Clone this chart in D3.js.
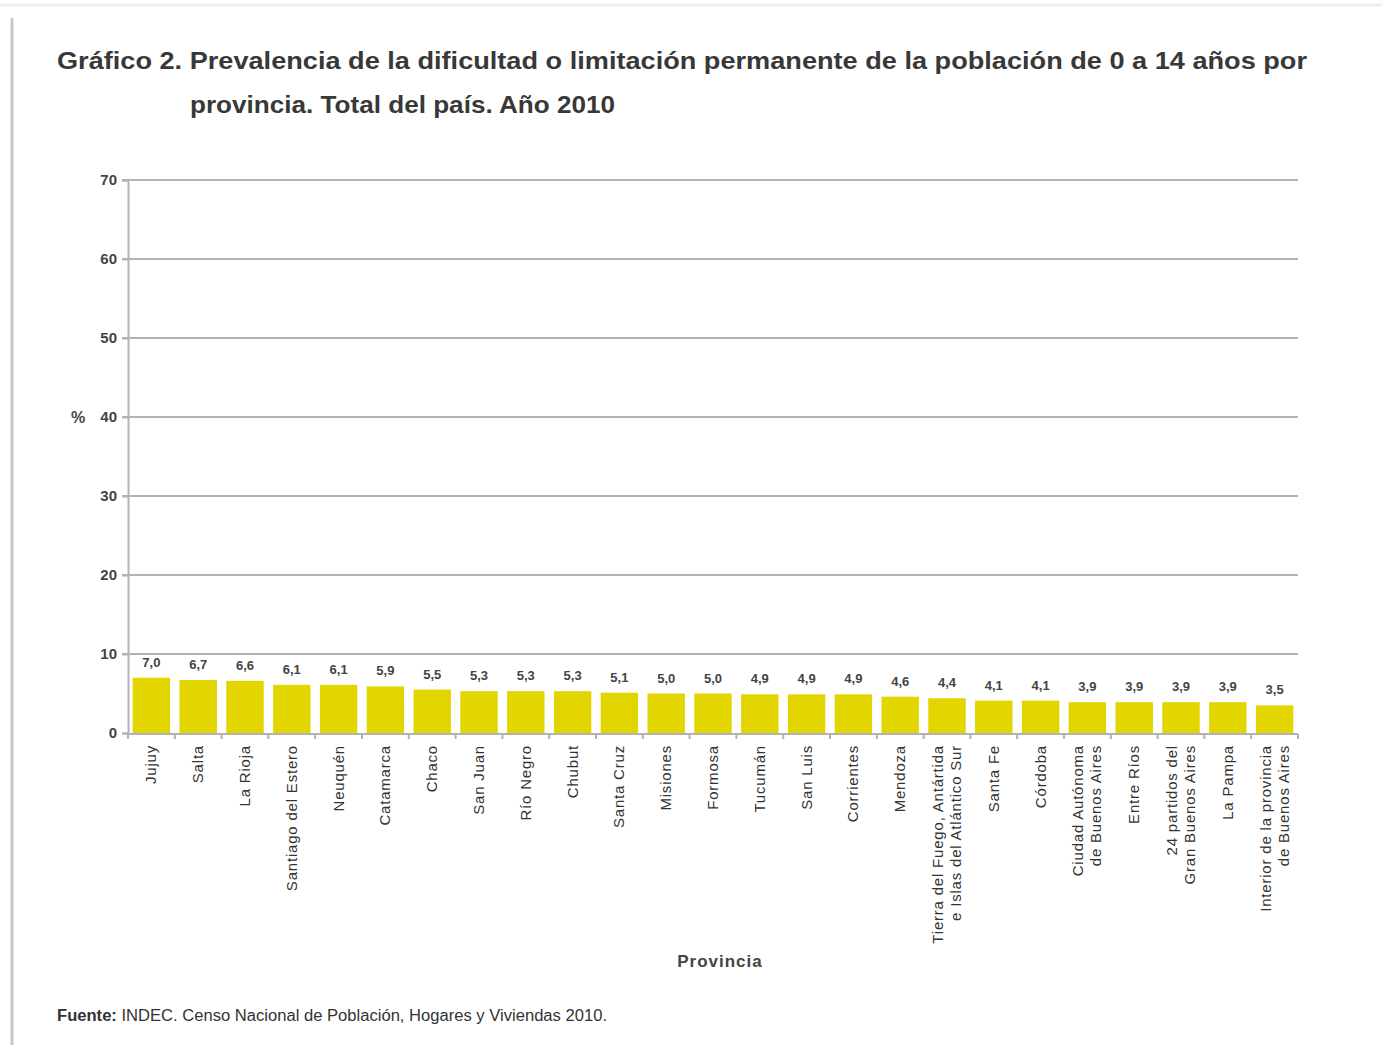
<!DOCTYPE html>
<html>
<head>
<meta charset="utf-8">
<script src="https://cdn.jsdelivr.net/npm/d3@7"></script>
<style>
  body { margin: 0; background: #fff; }
  #space { width: 1382px; height: 1045px; }
</style>
</head>
<body>
<div id="space"></div>
<script>
var provincias = [
    ["Jujuy"], ["Salta"], ["La Rioja"], ["Santiago del Estero"], ["Neuquén"],
    ["Catamarca"], ["Chaco"], ["San Juan"], ["Río Negro"], ["Chubut"],
    ["Santa Cruz"], ["Misiones"], ["Formosa"], ["Tucumán"], ["San Luis"],
    ["Corrientes"], ["Mendoza"], ["Tierra del Fuego, Antártida", "e Islas del Atlántico Sur"],
    ["Santa Fe"], ["Córdoba"], ["Ciudad Autónoma", "de Buenos Aires"], ["Entre Ríos"],
    ["24 partidos del", "Gran Buenos Aires"], ["La Pampa"],
    ["Interior de la provincia", "de Buenos Aires"]
];
var prevalencia = [7.0, 6.7, 6.6, 6.1, 6.1, 5.9, 5.5, 5.3, 5.3, 5.3, 5.1, 5.0, 5.0,
    4.9, 4.9, 4.9, 4.6, 4.4, 4.1, 4.1, 3.9, 3.9, 3.9, 3.9, 3.5];
var yTicks = [0, 10, 20, 30, 40, 50, 60, 70];
var titulo = ["Gráfico 2. Prevalencia de la dificultad o limitación permanente de la población de 0 a 14 años por",
    "provincia. Total del país. Año 2010"];
var fuente = "INDEC. Censo Nacional de Población, Hogares y Viviendas 2010.";

var svg, x, y;
var left = 128, right = 1298, top_y = 180, bottom = 733;

init();

function init() {
    svg = d3.select("#space").append("svg")
        .attr("xmlns", "http://www.w3.org/2000/svg")
        .attr("width", 1382)
        .attr("height", 1045)
        .style("font-family", "'Liberation Sans', Arial, sans-serif");

    //page edges
    svg.append("line").attr("x1", 0).attr("x2", 1382).attr("y1", 5).attr("y2", 5)
        .attr("stroke", "#eeeeee").attr("stroke-width", 3);
    svg.append("line").attr("x1", 12).attr("x2", 12).attr("y1", 18).attr("y2", 1045)
        .attr("stroke", "#c8c8c8").attr("stroke-width", 3);

    x = d3.scaleBand().domain(d3.range(provincias.length)).range([left, right]).paddingInner(0.2).paddingOuter(0.1);
    y = d3.scaleLinear().domain([0, 70]).range([bottom, top_y]);

    drawTitle();
    drawGrid();
    drawBars();
    drawLabels();
}

function drawTitle() {
    svg.append("text")
        .attr("x", 57).attr("y", 69)
        .attr("font-size", 23.5).attr("font-weight", "bold").attr("fill", "#383838")
        .attr("textLength", 1250).attr("lengthAdjust", "spacingAndGlyphs")
        .text(titulo[0]);
    svg.append("text")
        .attr("x", 190).attr("y", 113)
        .attr("font-size", 23.5).attr("font-weight", "bold").attr("fill", "#383838")
        .attr("textLength", 425).attr("lengthAdjust", "spacingAndGlyphs")
        .text(titulo[1]);
}

function drawGrid() {
    var g = svg.append("g").attr("id", "grid");
    g.selectAll("line").data(yTicks.slice(1)).enter().append("line")
        .attr("x1", left - 6).attr("x2", right)
        .attr("y1", function (d) { return y(d); })
        .attr("y2", function (d) { return y(d); })
        .attr("stroke", "#b3b3b3").attr("stroke-width", 2);

    //y axis
    var yAxis = d3.axisLeft(y).tickValues(yTicks).tickSize(6).tickPadding(5);
    var ga = svg.append("g").attr("transform", "translate(" + left + ",0)").call(yAxis);
    ga.select(".domain").attr("stroke", "#b3b3b3").attr("stroke-width", 2);
    ga.selectAll(".tick line").attr("stroke", "#b3b3b3").attr("stroke-width", 2);
    ga.selectAll(".tick text")
        .attr("font-family", "'Liberation Sans', Arial, sans-serif")
        .attr("font-size", 15).attr("font-weight", "bold").attr("fill", "#444");

    svg.append("text").attr("x", 78).attr("y", 423)
        .attr("text-anchor", "middle")
        .attr("font-size", 16).attr("font-weight", "bold").attr("fill", "#444")
        .text("%");
}

function drawBars() {
    svg.append("g").attr("id", "rect").selectAll("rect")
        .data(prevalencia).enter().append("rect")
        .attr("x", function (d, i) { return x(i); })
        .attr("y", function (d) { return y(d); })
        .attr("width", x.bandwidth())
        .attr("height", function (d) { return y(0) - y(d); })
        .attr("fill", "#e3d600");

    svg.append("g").attr("id", "values").selectAll("text")
        .data(prevalencia).enter().append("text")
        .attr("x", function (d, i) { return x(i) + x.bandwidth() / 2; })
        .attr("y", function (d) { return y(d) - 11; })
        .attr("text-anchor", "middle")
        .attr("font-size", 13).attr("font-weight", "bold").attr("fill", "#444")
        .text(function (d) { return d.toFixed(1).replace(".", ","); });

    //x axis with ticks at band edges
    var step = x.step();
    var edges = d3.range(provincias.length + 1).map(function (i) {
        return i === 0 ? left : x(i - 1) + x.bandwidth() + step * x.paddingInner() / 2;
    });
    edges[edges.length - 1] = right;
    var gx = svg.append("g").attr("id", "xaxis");
    gx.append("line").attr("x1", left).attr("x2", right).attr("y1", bottom + 1).attr("y2", bottom + 1)
        .attr("stroke", "#b3b3b3").attr("stroke-width", 2);
    gx.selectAll(".tk").data(edges).enter().append("line")
        .attr("x1", function (d) { return d; }).attr("x2", function (d) { return d; })
        .attr("y1", bottom + 1).attr("y2", bottom + 6)
        .attr("stroke", "#b3b3b3").attr("stroke-width", 2);
}

function drawLabels() {
    var g = svg.append("g").attr("id", "text");
    provincias.forEach(function (lines, i) {
        var cx = x(i) + x.bandwidth() / 2;
        var n = lines.length;
        var t = g.append("text")
            .attr("transform", "translate(" + cx + "," + (bottom + 12) + ") rotate(-90)")
            .attr("text-anchor", "end")
            .attr("font-size", 15).attr("letter-spacing", 0.8).attr("fill", "#333");
        lines.forEach(function (s, k) {
            t.append("tspan")
                .attr("x", 0)
                .attr("dy", k === 0 ? (5 - (n - 1) * 9) : 18)
                .text(s);
        });
    });

    svg.append("text").attr("x", 720).attr("y", 967)
        .attr("text-anchor", "middle")
        .attr("font-size", 17).attr("font-weight", "bold").attr("fill", "#444")
        .attr("letter-spacing", 1)
        .text("Provincia");

    var f = svg.append("text").attr("x", 57).attr("y", 1021)
        .attr("font-size", 16).attr("fill", "#333")
        .attr("textLength", 550).attr("lengthAdjust", "spacingAndGlyphs");
    f.append("tspan").attr("font-weight", "bold").text("Fuente: ");
    f.append("tspan").text(fuente);
}
</script>
</body>
</html>
